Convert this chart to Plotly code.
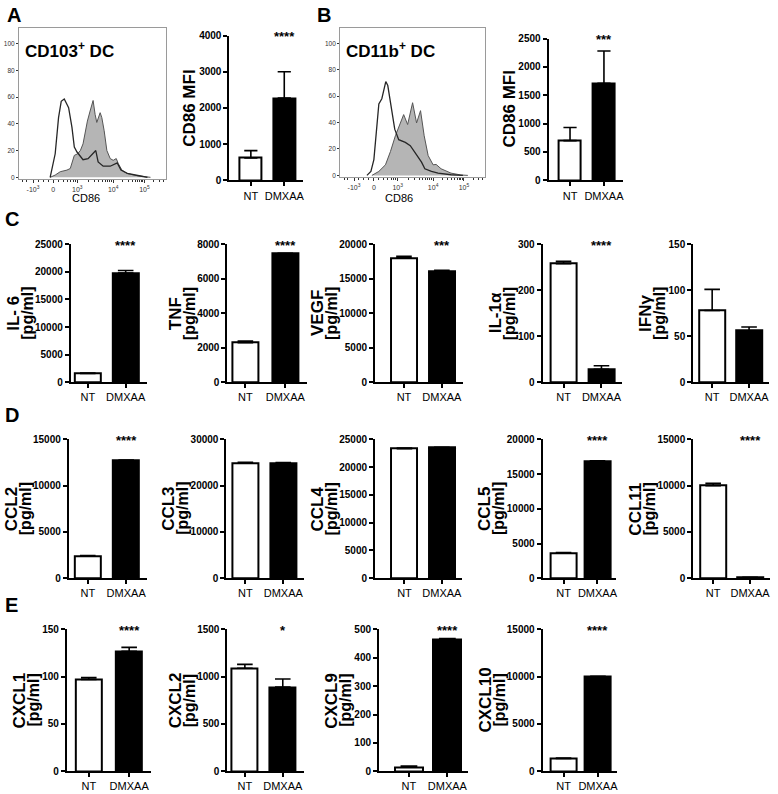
import math
import plotly.graph_objects as go

W, H = 778, 794
FONT = "Liberation Sans, Arial, Helvetica, sans-serif"

# ---------------- data ----------------
groups = ["NT", "DMXAA"]

# Flow histograms: x in logicle display units (1 unit ~ one decade), y in % of max
hist_tickvals = [-0.6, 0, 0.72, 1.79, 2.72]
hist_ticktext = ["-10<sup>3</sup>", "0", "10<sup>3</sup>", "10<sup>4</sup>", "10<sup>5</sup>"]
hist_ytickvals = [0, 20, 40, 60, 80, 100]

cd103_nt_x = [-0.09, 0.06, 0.16, 0.24, 0.33, 0.46, 0.56, 0.63, 0.71, 0.79, 0.89, 1.04,
              1.19, 1.27, 1.34, 1.49, 1.70, 1.85, 1.91, 2.02, 2.21, 2.60, 2.81]
cd103_nt_y = [0, 17.6, 44.6, 56.8, 58.6, 52, 37.3, 22.6, 18.9, 16.4, 13.2, 14,
              17.6, 20, 11.5, 8.3, 8.3, 10.3, 10.8, 5.4, 2.9, 1, 0]
cd103_dmxaa_x = [-0.09, 0.06, 0.21, 0.41, 0.51, 0.59, 0.63, 0.73, 0.81, 0.89, 0.96, 1.02,
                 1.10, 1.19, 1.25, 1.30, 1.40, 1.45, 1.52, 1.60, 1.70, 1.79, 1.88, 1.94,
                 2.05, 2.20, 2.50, 2.69, 2.90]
cd103_dmxaa_y = [0, 1.7, 4.2, 5.4, 6.6, 12.7, 16.4, 17.6, 20, 25, 36, 42,
                 49.5, 57.4, 47, 41, 48.3, 44.6, 34.8, 20, 14, 12.7, 14, 10.3,
                 5.4, 2.9, 1.2, 0.7, 0]

cd11b_nt_x = [-0.21, -0.09, 0, 0.09, 0.15, 0.24, 0.30, 0.36, 0.42, 0.50, 0.63, 0.75,
              0.95, 1.10, 1.24, 1.44, 1.54, 1.74, 1.94, 2.33, 2.69]
cd11b_nt_y = [0, 3, 12, 35, 54, 58, 66, 71, 68, 54, 35, 27,
              25, 22.5, 17.6, 10, 5, 3, 1.7, 0.5, 0]
cd11b_dmxaa_x = [-0.06, 0.15, 0.35, 0.50, 0.65, 0.80, 0.90, 1.02, 1.17, 1.29, 1.41, 1.52,
                 1.64, 1.79, 1.88, 2.03, 2.33, 2.63, 2.84]
cd11b_dmxaa_y = [0, 3, 8, 18, 30, 40, 46, 38.5, 55, 39.7, 49, 30,
                 15, 8, 8.3, 5, 1.7, 0.3, 0]

# Bar charts: mean and SD for [NT, DMXAA]
cd103_mfi = [620, 2270];   cd103_sd = [200, 730]
cd11b_mfi = [700, 1710];   cd11b_sd = [230, 570]
il6 = [1600, 19800];       il6_sd = [60, 450]
tnf = [2300, 7450];        tnf_sd = [90, 30]
vegf = [18000, 16100];     vegf_sd = [250, 120]
il1a = [258, 28];          il1a_sd = [5, 8]
ifng = [78, 56];           ifng_sd = [23, 4]
ccl2 = [2400, 12700];      ccl2_sd = [60, 60]
ccl3 = [24900, 24900];     ccl3_sd = [150, 100]
ccl4 = [23300, 23500];     ccl4_sd = [120, 80]
ccl5 = [3600, 16800];      ccl5_sd = [80, 100]
ccl11 = [10000, 60];       ccl11_sd = [250, 40]
cxcl1 = [97, 127];         cxcl1_sd = [2, 4]
cxcl2 = [1090, 890];       cxcl2_sd = [40, 85]
cxcl9 = [15, 465];         cxcl9_sd = [3, 3]
cxcl10 = [1350, 10000];    cxcl10_sd = [50, 50]

# ---------------- figure ----------------
fig = go.Figure()
axes = {}
annotations = []
counter = [0]


def new_axes():
    counter[0] += 1
    i = counter[0]
    xr = "x" if i == 1 else f"x{i}"
    yr = "y" if i == 1 else f"y{i}"
    xk = "xaxis" if i == 1 else f"xaxis{i}"
    yk = "yaxis" if i == 1 else f"yaxis{i}"
    return xr, yr, xk, yk


def text(x, y, s, size, bold=False, angle=0, xanchor="center", color="black"):
    annotations.append(dict(x=x / W, y=1 - y / H, xref="paper", yref="paper", text=s,
                            showarrow=False, textangle=angle, xanchor=xanchor, yanchor="middle",
                            font=dict(family=FONT, size=size, color=color,
                                      weight="bold" if bold else "normal")))


hist_minor = []
for d0, d1 in [(0.72, 1.79), (1.79, 2.72), (2.72, 3.65)]:
    for k in range(2, 10):
        v = d0 + math.log10(k) * (d1 - d0)
        if v < 3.33:
            hist_minor.append(round(v, 3))
hist_minor += [-0.9, -0.8, -0.45, -0.3, -0.15, 0.15, 0.3, 0.42, 0.52, 0.6, 0.66]


def hist_panel(nt_x, nt_y, dm_x, dm_y, x0, x1, top, bottom):
    xr, yr, xk, yk = new_axes()
    fig.add_trace(go.Scatter(x=dm_x, y=dm_y, xaxis=xr, yaxis=yr, mode="lines",
                             line=dict(color="#555555", width=1), fill="tozeroy",
                             fillcolor="#b5b5b5", showlegend=False, hoverinfo="skip"))
    fig.add_trace(go.Scatter(x=nt_x, y=nt_y, xaxis=xr, yaxis=yr, mode="lines",
                             line=dict(color="#262626", width=1.3),
                             showlegend=False, hoverinfo="skip"))
    axes[xk] = dict(domain=[x0 / W, x1 / W], range=[-1.02, 3.35], anchor=yr,
                    showline=True, mirror=True, linecolor="#9a9a9a", linewidth=1,
                    ticks="outside", ticklen=3, tickcolor="#333", tickwidth=1,
                    tickvals=hist_tickvals, ticktext=hist_ticktext,
                    tickfont=dict(family=FONT, size=7, color="#333"),
                    minor=dict(tickvals=hist_minor, ticks="outside", ticklen=2, tickcolor="#333"),
                    showgrid=False, zeroline=False, fixedrange=True)
    axes[yk] = dict(domain=[1 - bottom / H, 1 - top / H], range=[-1.5, 111.8], anchor=xr,
                    showline=True, mirror=True, linecolor="#9a9a9a", linewidth=1,
                    ticks="outside", ticklen=2, tickcolor="#333",
                    tickvals=hist_ytickvals, tickfont=dict(family=FONT, size=6.5, color="#333"),
                    showgrid=False, zeroline=False, fixedrange=True)


def bar_panel(means, errs, ymax, dtick, stars, title, axis_x, nt_c, dm_c, top, bottom,
              bar_px=26):
    xr, yr, xk, yk = new_axes()
    s = dm_c - nt_c
    right = dm_c + 0.55 * s
    fig.add_trace(go.Bar(x=[0, 1], y=means, width=bar_px / s, xaxis=xr, yaxis=yr,
                         marker=dict(color=["white", "black"], line=dict(color="black", width=2)),
                         error_y=dict(type="data", symmetric=False, array=errs, arrayminus=[0, 0],
                                      color="black", thickness=1.6, width=bar_px * 0.3),
                         showlegend=False, hoverinfo="skip"))
    axes[xk] = dict(domain=[axis_x / W, right / W], range=[-(nt_c - axis_x) / s, (right - nt_c) / s],
                    anchor=yr, showline=True, linecolor="black", linewidth=2,
                    ticks="outside", ticklen=4, tickwidth=1.5, tickcolor="black",
                    tickvals=[0, 1], ticktext=groups,
                    tickfont=dict(family=FONT, size=11, color="black"),
                    showgrid=False, zeroline=False, fixedrange=True)
    tv = list(range(0, ymax + 1, dtick))
    axes[yk] = dict(domain=[1 - bottom / H, 1 - top / H], range=[0, ymax], anchor=xr,
                    showline=True, linecolor="black", linewidth=2,
                    ticks="outside", ticklen=4, tickwidth=1.5, tickcolor="black",
                    tickvals=tv, ticktext=[str(v) for v in tv],
                    tickfont=dict(family=FONT, size=10, color="black", weight="bold"),
                    showgrid=False, zeroline=False, fixedrange=True)
    if stars:
        annotations.append(dict(x=1, y=ymax, xref=xr, yref=yr, text=stars, showarrow=False,
                                yanchor="middle", yshift=-1,
                                font=dict(family=FONT, size=13, color="black", weight="bold")))
    nchar = len(str(ymax))
    label_left = axis_x - 8 - nchar * 4.9
    ymid = (top + bottom) / 2
    if len(title) == 1:
        text(label_left - 12, ymid, title[0], 17, bold=True, angle=-90)
    else:
        text(label_left - 11, ymid, title[1], 16, bold=True, angle=-90)
        text(label_left - 25, ymid, title[0], 17, bold=True, angle=-90)


# ---- Row A / B ----
hist_panel(cd103_nt_x, cd103_nt_y, cd103_dmxaa_x, cd103_dmxaa_y, 19, 166, 22, 176)
hist_panel(cd11b_nt_x, cd11b_nt_y, cd11b_dmxaa_x, cd11b_dmxaa_y, 341, 486, 22, 174)
text(23, 45, "CD103<sup>+</sup> DC", 17, bold=True, xanchor="left")
text(345, 45, "CD11b<sup>+</sup> DC", 17, bold=True, xanchor="left")
text(86, 195, "CD86", 11)
text(400, 195, "CD86", 11)

bar_panel(cd103_mfi, cd103_sd, 4000, 1000, "****", ["CD86 MFI"], 230, 251.5, 285, 30, 177, bar_px=22)
bar_panel(cd11b_mfi, cd11b_sd, 2500, 500, "***", ["CD86 MFI"], 550, 571.5, 605.5, 33, 177, bar_px=22)

# ---- Row C ----
cT, cB = 242, 382
bar_panel(il6, il6_sd, 25000, 5000, "****", ["IL- 6", "[pg/ml]"], 71, 88, 126, cT, cB)
bar_panel(tnf, tnf_sd, 8000, 2000, "****", ["TNF", "[pg/ml]"], 228, 246, 286, cT, cB)
bar_panel(vegf, vegf_sd, 20000, 5000, "***", ["VEGF", "[pg/ml]"], 376, 405, 443, cT, cB)
bar_panel(il1a, il1a_sd, 300, 100, "****", ["IL-1α", "[pg/ml]"], 544, 565, 603, cT, cB)
bar_panel(ifng, ifng_sd, 150, 50, "", ["IFNγ", "[pg/ml]"], 695, 714, 751, cT, cB)

# ---- Row D ----
dT, dB = 440, 581
bar_panel(ccl2, ccl2_sd, 15000, 5000, "****", ["CCL2", "[pg/ml]"], 69, 88, 126.5, dT, dB)
bar_panel(ccl3, ccl3_sd, 30000, 10000, "", ["CCL3", "[pg/ml]"], 227, 246, 284, dT, dB)
bar_panel(ccl4, ccl4_sd, 25000, 5000, "", ["CCL4", "[pg/ml]"], 376, 405.5, 443, dT, dB)
bar_panel(ccl5, ccl5_sd, 20000, 5000, "****", ["CCL5", "[pg/ml]"], 544, 565, 599, dT, dB)
bar_panel(ccl11, ccl11_sd, 15000, 5000, "****", ["CCL11", "[pg/ml]"], 695, 715, 752, dT, dB)

# ---- Row E ----
eT, eB = 633, 777
bar_panel(cxcl1, cxcl1_sd, 150, 50, "****", ["CXCL1", "[pg/ml]"], 67, 89, 129.5, eT, eB)
bar_panel(cxcl2, cxcl2_sd, 1500, 500, "*", ["CXCL2", "[pg/ml]"], 228, 245.5, 283.5, eT, eB)
bar_panel(cxcl9, cxcl9_sd, 500, 100, "****", ["CXCL9", "[pg/ml]"], 380, 410, 448.5, eT, eB, bar_px=28)
bar_panel(cxcl10, cxcl10_sd, 15000, 5000, "****", ["CXCL10", "[pg/ml]"], 544, 565, 599.5, eT, eB)

# Panel letters
text(5, 9, "A", 20, bold=True, xanchor="left")
text(316, 9, "B", 20, bold=True, xanchor="left")
text(3, 216, "C", 20, bold=True, xanchor="left")
text(3, 415, "D", 20, bold=True, xanchor="left")
text(3, 608, "E", 20, bold=True, xanchor="left")

fig.update_layout(width=W, height=H, margin=dict(l=0, r=0, t=0, b=0),
                  paper_bgcolor="white", plot_bgcolor="rgba(0,0,0,0)",
                  font=dict(family=FONT, color="black"), annotations=annotations,
                  bargap=0, **axes)
fig.write_html("out.html", config={"displayModeBar": False},
               post_script="document.body.style.margin='0px';document.body.style.overflow='hidden';")
